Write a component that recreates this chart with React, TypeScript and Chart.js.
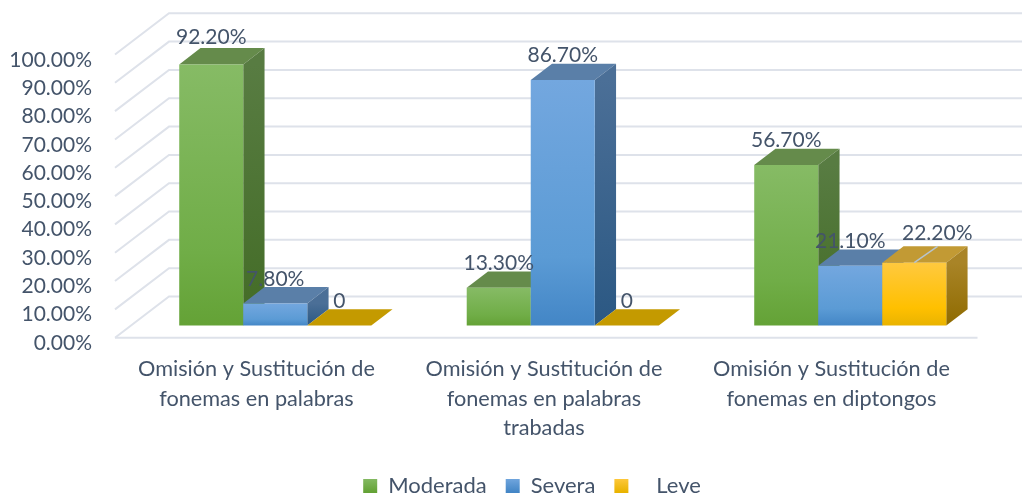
import React, { useEffect, useRef } from "react";
import { Chart, registerables } from "chart.js";

Chart.register(...registerables);

const categories = [
  ["Omisión y Sustitución de", "fonemas en palabras"],
  ["Omisión y Sustitución de", "fonemas en palabras", "trabadas"],
  ["Omisión y Sustitución de", "fonemas en diptongos"],
];
const moderada = [92.2, 13.3, 56.7];
const severa = [7.8, 86.7, 21.1];
const leve = [0, 0, 22.2];
const yTicks = [0, 10, 20, 30, 40, 50, 60, 70, 80, 90, 100];

const FONT = "Lato, 'Open Sans', sans-serif";
const TEXT = "#44546A";
const GRID = "#DEE2EA";

const palette = [
  { front: ["#86BB65", "#70AD47", "#64A236"], top: "#658B4B", side: ["#587C42", "#436C26"] },
  { front: ["#73A7DF", "#5B9BD5", "#4386C6"], top: "#5A7FA8", side: ["#4B6F97", "#2B5883"] },
  { front: ["#FFC93F", "#FFC000", "#E9B300"], top: "#C29A34", side: ["#A98427", "#8F6B00"] },
];
const FLAT_TOP = "#C49A00";

// perspective of the fake 3D box
const BAR_DEPTH = { dx: 21.3, dy: -16.3 };
const WALL = { frontDx: -16.5, frontDy: 12.2, backDx: 37.5, backDy: -29 };
// labels that Excel moved away from their default spot, [dataset, index, dx, dy]
const labelNudges = [
  [0, 0, 0, -3],
  [2, 2, 23, -5],
];
const LABEL_GAP = 24.5;

const fmt = (v: number) => (v === 0 ? "0" : v.toFixed(2) + "%");

function frontFill(c: any, idx: number) {
  const { chart } = c;
  const stops = palette[idx].front;
  const y = chart.scales?.y;
  if (!y || c.parsed == null) return stops[1];
  const top = y.getPixelForValue(c.parsed.y);
  const base = y.getPixelForValue(0);
  if (base - top < 1) return stops[1];
  const g = chart.ctx.createLinearGradient(0, top, 0, base);
  g.addColorStop(0, stops[0]);
  g.addColorStop(0.72, stops[1]);
  g.addColorStop(1, stops[2]);
  return g;
}

const poly = (ctx: CanvasRenderingContext2D, pts: number[][], fill: any) => {
  ctx.beginPath();
  pts.forEach((p, i) => (i ? ctx.lineTo(p[0], p[1]) : ctx.moveTo(p[0], p[1])));
  ctx.closePath();
  ctx.fillStyle = fill;
  ctx.fill();
};

const box3d = {
  id: "box3d",
  beforeDraw(chart: any) {
    // the legend sits right of the canvas centre and lower than its natural row
    chart.legend.left = 42;
    chart.legend.right = 1022;
    chart.legend.top = 456;
  },
  beforeDatasetsDraw(chart: any) {
    const { ctx, chartArea, scales } = chart;
    const y = scales.y;
    const x0 = chartArea.left;
    const frontX = x0 + WALL.frontDx;
    const backX = x0 + WALL.backDx;
    ctx.save();
    ctx.strokeStyle = GRID;
    ctx.lineWidth = 2;
    yTicks.forEach((v) => {
      const py = y.getPixelForValue(v);
      ctx.beginPath();
      ctx.moveTo(frontX, py + WALL.frontDy);
      ctx.lineTo(backX, py + WALL.backDy);
      ctx.lineTo(chart.width, py + WALL.backDy);
      ctx.stroke();
    });
    const zero = y.getPixelForValue(0) + WALL.frontDy;
    ctx.beginPath();
    ctx.moveTo(frontX, zero);
    ctx.lineTo(chartArea.right + WALL.frontDx, zero);
    ctx.stroke();
    ctx.restore();

    // left-to-right painter's order, each series' top and side under its front
    const { dx, dy } = BAR_DEPTH;
    chart.data.datasets.forEach((_: any, d: number) => {
      const meta = chart.getDatasetMeta(d);
      const p = palette[d];
      meta.data.forEach((el: any) => {
        const l = el.x - el.width / 2;
        const r = el.x + el.width / 2;
        const flat = el.base - el.y < 1;
        poly(ctx, [[l, el.y], [r, el.y], [r + dx, el.y + dy], [l + dx, el.y + dy]], flat ? FLAT_TOP : p.top);
        if (!flat) {
          const g = ctx.createLinearGradient(0, el.y, 0, el.base);
          g.addColorStop(0, p.side[0]);
          g.addColorStop(1, p.side[1]);
          poly(ctx, [[r, el.y], [r + dx, el.y + dy], [r + dx, el.base + dy], [r, el.base]], g);
        }
      });
      meta.controller.draw();
    });
  },
  beforeDatasetDraw() {
    return false;
  },
  afterDatasetsDraw(chart: any) {
    const { ctx } = chart;
    ctx.save();
    ctx.font = `21px ${FONT}`;
    ctx.fillStyle = TEXT;
    ctx.textAlign = "center";
    ctx.textBaseline = "middle";
    chart.data.datasets.forEach((ds: any, d: number) => {
      chart.getDatasetMeta(d).data.forEach((el: any, i: number) => {
        const n = labelNudges.find((k) => k[0] === d && k[1] === i);
        const lx = el.x + (n ? n[2] : 0);
        const ly = el.y - LABEL_GAP + (n ? n[3] : 0);
        if (n && n[2] !== 0) {
          ctx.strokeStyle = "#B7C4CE";
          ctx.lineWidth = 1.5;
          ctx.beginPath();
          ctx.moveTo(el.x, el.y);
          ctx.lineTo(el.x + BAR_DEPTH.dx + 2, el.y + BAR_DEPTH.dy);
          ctx.stroke();
        }
        ctx.fillText(fmt(ds.data[i]), lx, ly);
      });
    });
    ctx.restore();
  },
};

export default function App() {
  const ref = useRef<HTMLCanvasElement>(null);
  useEffect(() => {
    const mk = (label: string, data: number[], idx: number) => ({
      label,
      data,
      borderWidth: 0,
      backgroundColor: (c: any) => frontFill(c, idx),
      barPercentage: 1,
      categoryPercentage: 0.668,
    });
    const chart = new Chart(ref.current!, {
      type: "bar",
      data: {
        labels: categories as any,
        datasets: [mk("Moderada", moderada, 0), mk("Severa", severa, 1), mk("Leve", leve, 2)],
      },
      plugins: [box3d as any],
      options: {
        responsive: false,
        animation: false,
        layout: { padding: { left: 0, right: 28, top: 42.3, bottom: 0 } },
        plugins: {
          tooltip: { enabled: false },
          title: { display: false },
          legend: {
            position: "bottom",
            labels: {
              boxWidth: 14,
              boxHeight: 14,
              padding: 19,
              color: TEXT,
              font: { family: FONT, size: 22 },
              generateLabels: (chart: any) =>
                chart.data.datasets.map((ds: any, i: number) => {
                  const g = chart.ctx.createLinearGradient(0, 478, 0, 492);
                  g.addColorStop(0, palette[i].front[0]);
                  g.addColorStop(1, palette[i].front[2]);
                  return {
                    text: (i === 2 ? "   " : "") + ds.label,
                    fillStyle: g,
                    strokeStyle: "transparent",
                    lineWidth: 0,
                    fontColor: TEXT,
                    datasetIndex: i,
                    hidden: false,
                  };
                }),
            },
          },
        },
        scales: {
          x: {
            grid: { display: false, drawTicks: false },
            border: { display: false },
            afterFit: (s: any) => {
              s.height = 121.5;
              s.paddingLeft = 0;
              s.paddingRight = 0;
            },
            ticks: {
              autoSkip: false,
              maxRotation: 0,
              padding: 29,
              labelOffset: -18.8,
              color: TEXT,
              font: { family: FONT, size: 21.7, lineHeight: 1.36 },
            },
          },
          y: {
            min: 0,
            max: 100,
            grid: { display: false, drawTicks: false },
            border: { display: false },
            afterFit: (s: any) => {
              s.width = 131.5;
              s.paddingTop = 0;
              s.paddingBottom = 0;
            },
            afterBuildTicks: (s: any) => {
              s.ticks = yTicks.map((value) => ({ value }));
            },
            ticks: {
              autoSkip: false,
              padding: 39.5,
              labelOffset: 17.5,
              color: TEXT,
              font: { family: FONT, size: 21 },
              callback: (v: any) => Number(v).toFixed(2) + "%",
            },
          },
        },
      },
    } as any);
    return () => chart.destroy();
  }, []);
  return (
    <div style={{ position: "absolute", left: 0, top: 0, width: 1022, height: 498, background: "#fff" }}>
      <canvas ref={ref} width={1022} height={498} style={{ display: "block" }} />
    </div>
  );
}
